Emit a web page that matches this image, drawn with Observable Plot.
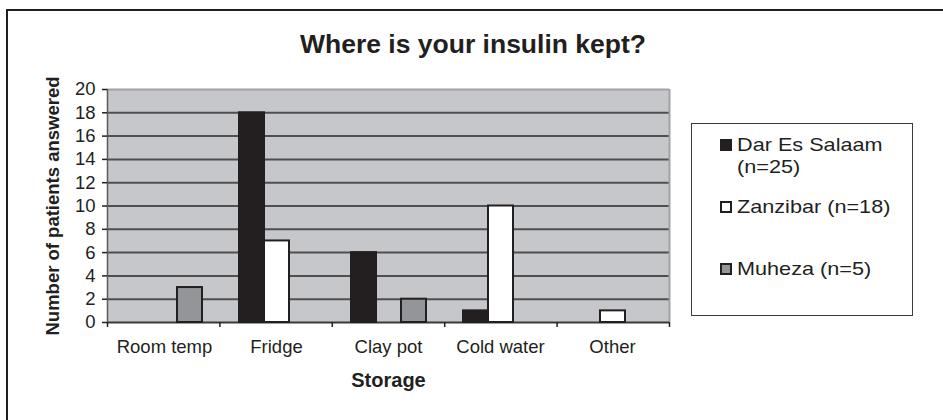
<!DOCTYPE html>
<html>
<head>
<meta charset="utf-8">
<script src="https://cdn.jsdelivr.net/npm/d3@7"></script>
<script src="https://cdn.jsdelivr.net/npm/@observablehq/plot@0.6"></script>
<style>
  html, body { margin: 0; padding: 0; background: #ffffff; }
  #chart { position: relative; width: 943px; height: 420px; overflow: hidden; font-family: "Liberation Sans", Arial, sans-serif; color: #231f20; }
  #chart svg { position: absolute; left: 0; top: 0; }
  #title { position: absolute; left: 0; width: 946px; top: 31px; text-align: center; font-weight: bold; font-size: 26.5px; line-height: 1; }
  #outer { position: absolute; left: 6px; top: 9px; width: 1000px; height: 600px; border-top: 2px solid #231f20; border-left: 2px solid #231f20; pointer-events: none; }
  #legend { position: absolute; left: 691px; top: 123px; width: 222px; height: 193px; border: 1.5px solid #3c3c3e; box-sizing: border-box; }
  .lg-mark { position: absolute; width: 12px; height: 12px; box-sizing: border-box; border: 2px solid #231f20; }
  .lg-text { position: absolute; width: 144px; font-size: 18.5px; line-height: 22px; transform: scaleX(1.17); transform-origin: left top; white-space: normal; }
</style>
</head>
<body>
<div id="chart">
  <div id="title"></div>
</div>
<script>
// ---- data ----
const titleText = "Where is your insulin kept?";
const categories = ["Room temp", "Fridge", "Clay pot", "Cold water", "Other"];
const sites = ["Dar Es Salaam (n=25)", "Zanzibar (n=18)", "Muheza (n=5)"];
const darValues = [0, 18, 6, 1, 0];
const zanzibarValues = [0, 7, 0, 10, 1];
const muhezaValues = [3, 0, 2, 0, 0];
const yTicks = [0, 2, 4, 6, 8, 10, 12, 14, 16, 18, 20];
const yLabel = "Number of patients answered";
const xLabel = "Storage";
const siteColors = ["#231f20", "#ffffff", "#939598"];

// ---- table ----
const seriesValues = [darValues, zanzibarValues, muhezaValues];
const data = categories.flatMap((c, i) => sites.map((s, j) => ({storage: c, site: s, value: seriesValues[j][i]})));
const boundaries = d3.range(categories.length + 1);

const W = 943, H = 420;
const margins = {marginLeft: 107, marginRight: 274, marginTop: 89, marginBottom: 98};
const baseStyle = {fontFamily: "'Liberation Sans', Arial, sans-serif", fontSize: "18.5px", color: "#231f20", background: "transparent", overflow: "visible"};

const chart = document.getElementById("chart");
document.getElementById("title").textContent = titleText;

// background, grid, axes
const back = Plot.plot({
  width: W, height: H, ...margins,
  style: baseStyle,
  x: {type: "linear", domain: [0, categories.length]},
  y: {domain: [0, 20]},
  marks: [
    Plot.frame({fill: "#c6c7ca", stroke: "none"}),
    Plot.ruleY(yTicks.filter(t => t > 0 && t < 20), {stroke: "#4f4f51", strokeWidth: 2}),
    Plot.ruleY([20], {stroke: "#a2a2a4", strokeWidth: 2}),
    Plot.ruleX([categories.length], {stroke: "#a2a2a4", strokeWidth: 2}),
    Plot.ruleY([0], {stroke: "#3a3a3c", strokeWidth: 2}),
    Plot.ruleX([0], {stroke: "#58595b", strokeWidth: 1.5}),
    Plot.axisY({ticks: yTicks, tickSize: 5, tickPadding: 7, label: null, stroke: "#231f20", strokeWidth: 1.5, fontSize: 18.5, fill: "#231f20"}),
    Plot.axisX({ticks: boundaries, tickSize: 5, tickFormat: () => "", label: null, stroke: "#231f20", strokeWidth: 1.5}),
    Plot.text([yLabel], {text: d => d, frameAnchor: "left", rotate: -90, dx: -54, textAnchor: "middle", lineAnchor: "middle", fontWeight: "bold", fontSize: 18.5, fill: "#231f20"}),
    Plot.text([xLabel], {text: d => d, frameAnchor: "bottom", dy: 58, textAnchor: "middle", lineAnchor: "middle", fontWeight: "bold", fontSize: 20, fill: "#231f20"})
  ]
});
chart.appendChild(back);

// bars
const bars = Plot.plot({
  width: W, height: H, ...margins,
  style: baseStyle,
  fx: {domain: categories, padding: 0, label: null},
  x: {domain: sites, paddingInner: 0, paddingOuter: 0.66, axis: null},
  y: {domain: [0, 20], axis: null},
  color: {domain: sites, range: siteColors},
  marks: [
    Plot.barY(data, {fx: "storage", x: "site", y: "value", fill: "site", stroke: "#231f20", strokeWidth: 2, filter: d => d.value > 0}),
    Plot.axisFx({anchor: "bottom", tickSize: 0, tickPadding: 17, label: null, fontSize: 18.5, fill: "#231f20"})
  ]
});
chart.appendChild(bars);

// legend
const legend = document.createElement("div");
legend.id = "legend";
chart.appendChild(legend);
const rowTops = [133, 195, 257];
sites.forEach((s, i) => {
  const m = document.createElement("div");
  m.className = "lg-mark";
  m.style.left = (719 - 691) + "px";
  m.style.top = (rowTops[i] + 5 - 123) + "px";
  m.style.background = siteColors[i];
  legend.appendChild(m);
  const t = document.createElement("div");
  t.className = "lg-text";
  t.style.left = (736 - 691) + "px";
  t.style.top = (rowTops[i] - 123) + "px";
  t.textContent = s;
  legend.appendChild(t);
});

const outer = document.createElement("div");
outer.id = "outer";
chart.appendChild(outer);
</script>
</body>
</html>
